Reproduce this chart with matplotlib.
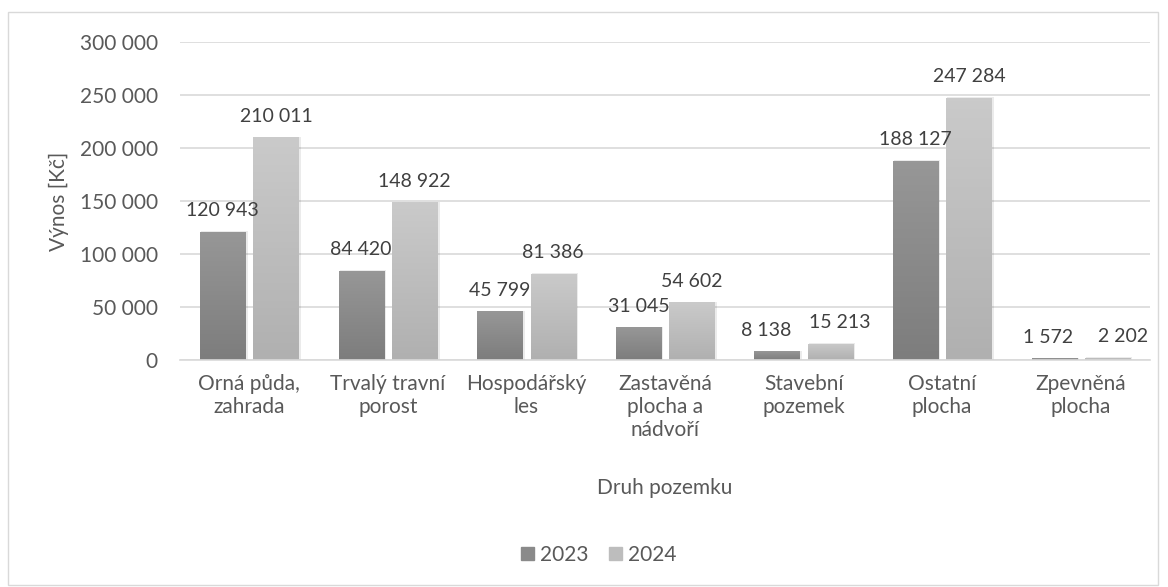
import numpy as np
import matplotlib
matplotlib.use("Agg")
import matplotlib.pyplot as plt
from matplotlib.patches import Rectangle, Patch

categories = ["Orná půda,\nzahrada", "Trvalý travní\nporost", "Hospodářský\nles",
              "Zastavěná\nplocha a\nnádvoří", "Stavební\npozemek", "Ostatní\nplocha",
              "Zpevněná\nplocha"]
v2023 = [120943, 84420, 45799, 31045, 8138, 188127, 1572]
v2024 = [210011, 148922, 81386, 54602, 15213, 247284, 2202]
series_names = ["2023", "2024"]
yticks = [0, 50000, 100000, 150000, 200000, 250000, 300000]

plt.rcParams['font.family'] = ['Lato', 'DejaVu Sans']
txt = '#595959'
FS = 15

fig = plt.figure(figsize=(11.68, 5.87), dpi=100)
ax = fig.add_axes([180 / 1168, 1 - 360 / 587, 970 / 1168, 318 / 587])

x = np.arange(len(categories))
w = 0.325
gap = 0.06
off = (w + gap) / 2

# label nudges (pixels) to avoid overlapping labels, as in the original
label_dx = [[0, 0, 0, 0, -11, 0, -6], [0, 0, 0, 0, 10, 0, 16]]

def fmt(v):
    return f"{v:,}".replace(",", " ")

grad_specs = [("#979797", "#7d7d7d"), ("#cacaca", "#b0b0b0")]

def hex2rgb(h):
    return np.array([int(h[i:i+2], 16) / 255 for i in (1, 3, 5)])

for si, (vals, sign) in enumerate([(v2023, -1), (v2024, 1)]):
    top_c, bot_c = (hex2rgb(c) for c in grad_specs[si])
    grad = np.linspace(0, 1, 64)[:, None, None]
    img = top_c * (1 - grad) + bot_c * grad
    bars = ax.bar(x + sign * off, vals, width=w, color=grad_specs[si][0], zorder=2)
    for i, (b, v) in enumerate(zip(bars, vals)):
        bx = b.get_x()
        bw, bh = b.get_width(), b.get_height()
        sh = Rectangle((bx + 0.008, 0), bw + 0.01, bh + 500, color='#000000', alpha=0.08,
                       zorder=1.5, lw=0)
        ax.add_patch(sh)
        im = ax.imshow(img, extent=[bx, bx + bw, 0, max(bh, 1)], aspect='auto', zorder=2.5,
                       origin='upper')
        im.set_clip_path(b)
        ax.annotate(fmt(v), (bx + bw / 2, bh), xytext=(label_dx[si][i] * 0.72, 9),
                    textcoords='offset points', ha='center', va='bottom', fontsize=14,
                    color='#404040')

ax.set_xlim(-0.5, len(categories) - 0.5)
ax.set_ylim(0, 300000)
ax.set_yticks(yticks)
ax.set_yticklabels([fmt(t) for t in yticks], fontsize=FS, color=txt)
ax.set_xticks(x)
ax.set_xticklabels(categories, fontsize=FS, color=txt, linespacing=1.2, va='top')
ax.tick_params(axis='y', length=0, pad=16)
ax.tick_params(axis='x', length=0, pad=10)
ax.grid(axis='y', color='#d9d9d9', lw=1.2, zorder=0)
ax.set_axisbelow(True)
for s in ['top', 'right', 'left']:
    ax.spines[s].set_visible(False)
ax.spines['bottom'].set_color('#d9d9d9')
ax.spines['bottom'].set_linewidth(1.2)

ax.set_ylabel("Výnos [Kč]", fontsize=FS, color=txt, labelpad=8)
fig.text(665 / 1168, 1 - 488 / 587, "Druh pozemku", ha='center', va='center', fontsize=FS,
         color=txt)

handles = [Patch(color='#8a8a8a'), Patch(color='#bdbdbd')]
fig.legend(handles, series_names, loc='center', bbox_to_anchor=(599 / 1168, 1 - 555 / 587),
           ncol=2, frameon=False, fontsize=FS, handlelength=0.6, handleheight=0.6,
           handletextpad=0.3, columnspacing=1.0, labelcolor=txt)

fig.patches.append(Rectangle((8 / 1168, 1 - 585 / 587), 1150 / 1168, 573 / 587,
                             transform=fig.transFigure, fill=False, edgecolor='#d9d9d9', lw=1))

fig.savefig("out.png", dpi=100)
